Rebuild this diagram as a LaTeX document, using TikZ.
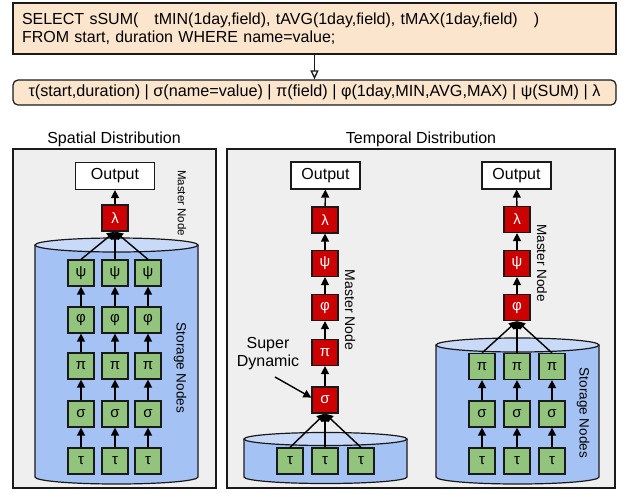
\documentclass[tikz,border=0pt]{standalone}
\usepackage{fontspec}
\setmainfont{Liberation Sans}
\usetikzlibrary{arrows.meta}

\definecolor{qfill}{HTML}{FCE5CD}
\definecolor{panelfill}{HTML}{EFEFEF}
\definecolor{cylbody}{HTML}{A4C2F4}
\definecolor{cyltop}{HTML}{C9DAF8}
\definecolor{opgreen}{HTML}{93C47D}
\definecolor{opred}{HTML}{CC0000}
\definecolor{edgecol}{HTML}{1A1A1A}

% storage cylinder: left x, right x, top y, bottom y, ellipse half-height
\newcommand\storecyl[5]{%
  \fill[cylbody] (#1,#3) -- (#1,#4)
    .. controls (#1,{#4+0.552*#5}) and ({(#1+#2)/2-0.552*(#2-#1)/2},{#4+#5}) .. ({(#1+#2)/2},{#4+#5})
    .. controls ({(#1+#2)/2+0.552*(#2-#1)/2},{#4+#5}) and (#2,{#4+0.552*#5}) .. (#2,#4)
    -- (#2,#3) -- cycle;
  \draw[edgecol, line width=1.2pt] (#1,#3) -- (#1,#4)
    .. controls (#1,{#4+0.552*#5}) and ({(#1+#2)/2-0.552*(#2-#1)/2},{#4+#5}) .. ({(#1+#2)/2},{#4+#5})
    .. controls ({(#1+#2)/2+0.552*(#2-#1)/2},{#4+#5}) and (#2,{#4+0.552*#5}) .. (#2,#4)
    -- (#2,#3);
  \draw[edgecol, line width=1.2pt, fill=cyltop] ({(#1+#2)/2},#3) ellipse [x radius={(#2-#1)/2}, y radius=#5];
}

\begin{document}
\begin{tikzpicture}[x=1pt, y=-1pt,
  query/.style={draw=edgecol, fill=qfill, line width=1.2pt, minimum width=603pt, inner xsep=9pt,
    text width=585pt, align=left, minimum height=51pt, font=\fontsize{16}{18}\selectfont},
  algebra/.style={draw=edgecol, fill=qfill, line width=1.2pt, rounded corners=5pt, minimum width=603pt,
    minimum height=25pt, inner sep=0pt, font=\fontsize{16.2}{18}\selectfont},
  paneltitle/.style={anchor=base, font=\fontsize{16}{18}\selectfont},
  panel/.style={draw=edgecol, fill=panelfill, line width=1.3pt},
  opbox/.style={draw=edgecol, line width=1.2pt, minimum width=26pt, minimum height=26pt, inner sep=0pt,
    font=\fontsize{15}{15}\selectfont},
  greenop/.style={opbox, fill=opgreen},
  redop/.style={opbox, fill=opred, text=white},
  outbox/.style={draw=edgecol, fill=white, line width=1.2pt, minimum height=27pt, inner sep=0pt,
    font=\fontsize{16}{18}\selectfont},
  sidelabel/.style={rotate=-90, inner sep=0pt},
  flow/.style={-{Triangle[length=8pt,width=8pt]}, line width=1.4pt, black},
]
\useasboundingbox (0,0) rectangle (623,493);

% query and its algebra
\node[query] (q) at (314.5,28.5) {SELECT sSUM(\ \ \ tMIN(1day,field), tAVG(1day,field), tMAX(1day,field)\ \ \ )\\FROM start, duration WHERE name=value;};
\node[algebra] (alg) at (314.5,92.5) {τ(start,duration) | σ(name=value) | π(field) | φ(1day,MIN,AVG,MAX) | ψ(SUM) | λ};
\draw[-{Triangle[open,length=9pt,width=8pt]}, line width=1.3pt, edgecol] (q.south) -- (alg.north);

% panel titles and frames
\node[paneltitle] (tsp) at (114,143) {Spatial Distribution};
\node[paneltitle] (ttp) at (421,143) {Temporal Distribution};
\draw[panel] (13,149) rectangle (216,488);
\draw[panel] (227,149) rectangle (615,488);

% ---------- spatial distribution ----------
\storecyl{35}{198}{245}{477}{7}
\node[outbox, minimum width=79pt] (o1) at (115,176) {Output};
\node[redop] (l1) at (115,218) {λ};
\node[sidelabel, font=\fontsize{11.5}{12}\selectfont] (mn1) at (182,203) {Master Node};
\node[sidelabel, font=\fontsize{13.5}{14}\selectfont] (sn1) at (180,368) {Storage Nodes};
\foreach \c/\x in {a/81,b/115,c/148}{
  \node[greenop] (s1t\c) at (\x,461) {τ};
  \node[greenop] (s1s\c) at (\x,414) {σ};
  \node[greenop] (s1p\c) at (\x,366) {π};
  \node[greenop] (s1f\c) at (\x,320) {φ};
  \node[greenop] (s1y\c) at (\x,273) {ψ};
  \draw[flow] (s1t\c) -- (s1s\c);
  \draw[flow] (s1s\c) -- (s1p\c);
  \draw[flow] (s1p\c) -- (s1f\c);
  \draw[flow] (s1f\c) -- (s1y\c);
  \draw[flow] (s1y\c.north) -- (l1.south);
}
\draw[flow] (l1) -- (o1);

% ---------- temporal distribution, super dynamic ----------
\storecyl{244}{407}{439}{477}{6.5}
\node[outbox, minimum width=69pt] (o2) at (325.5,175.5) {Output};
\node[redop] (l2) at (325,220) {λ};
\node[redop] (y2) at (325,263.5) {ψ};
\node[redop] (f2) at (325,307.5) {φ};
\node[redop] (p2) at (325,352.5) {π};
\node[redop] (s2) at (325,400) {σ};
\node[sidelabel, font=\fontsize{14}{14}\selectfont] (mn2) at (350,310) {Master Node};
\node[align=center, inner sep=0pt, font=\fontsize{16}{18}\selectfont] (sd) at (268,354) {Super\\Dynamic};
\coordinate (sdtail) at (275,377);
\draw[flow] (sdtail) -- (s2.170);
\draw[flow] (s2) -- (p2);
\draw[flow] (p2) -- (f2);
\draw[flow] (f2) -- (y2);
\draw[flow] (y2) -- (l2);
\draw[flow] (l2) -- (o2);
\foreach \c/\x in {a/290,b/325,c/361}{
  \node[greenop] (s2t\c) at (\x,461) {τ};
  \draw[flow] (s2t\c.north) -- (s2.south);
}

% ---------- temporal distribution, storage side ----------
\storecyl{436}{599}{345}{477}{7}
\node[outbox, minimum width=69pt] (o3) at (516.5,175.5) {Output};
\node[redop] (l3) at (517,219.5) {λ};
\node[redop] (y3) at (517,263.5) {ψ};
\node[redop] (f3) at (517,307.5) {φ};
\node[sidelabel, font=\fontsize{13.5}{14}\selectfont] (mn3) at (542,263) {Master Node};
\node[sidelabel, font=\fontsize{13.5}{14}\selectfont] (sn3) at (583,413) {Storage Nodes};
\draw[flow] (f3) -- (y3);
\draw[flow] (y3) -- (l3);
\draw[flow] (l3) -- (o3);
\foreach \c/\x in {a/482,b/517,c/552}{
  \node[greenop] (s3t\c) at (\x,461) {τ};
  \node[greenop] (s3s\c) at (\x,414) {σ};
  \node[greenop] (s3p\c) at (\x,366.5) {π};
  \draw[flow] (s3t\c) -- (s3s\c);
  \draw[flow] (s3s\c) -- (s3p\c);
  \draw[flow] (s3p\c.north) -- (f3.south);
}
\end{tikzpicture}
\end{document}
